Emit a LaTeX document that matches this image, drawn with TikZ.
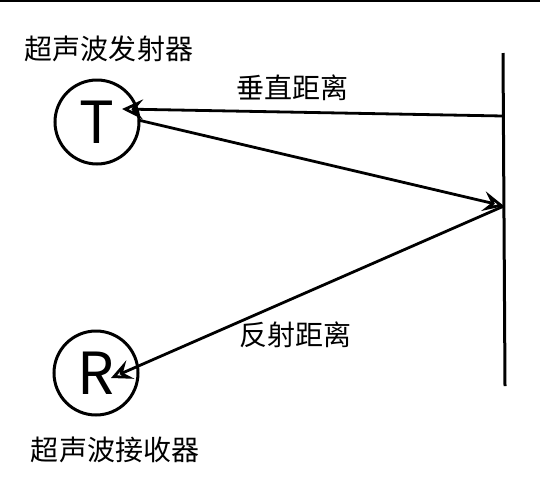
\documentclass[tikz,border=0pt]{standalone}
\usepackage{fontspec}
\setmainfont{Noto Sans CJK SC}
\usetikzlibrary{arrows.meta}

\tikzset{
  dev/.style={circle, draw, line width=1.5pt, minimum size=42pt, inner sep=0pt, font=\fontsize{29}{32}\selectfont},
  lbl/.style={font=\fontsize{14}{17}\selectfont, inner sep=0pt},
  ray/.style={line width=1.4pt, -{Stealth[open, length=10.5pt, width=10pt, inset=4pt]}},
}

\begin{document}
\begin{tikzpicture}[x=0.5pt, y=-0.5pt]
	\useasboundingbox (0,0) rectangle (540,493);
	\draw[line width=1pt] (0,1) -- (540,1);
	% wall
	\coordinate (wtop) at (503,53);
	\coordinate (wbot) at (505,386);
	\draw[line width=1.5pt] (wtop) -- (wbot);
	% emitter and receiver
	\node[dev] (T) at (97,122) {T};
	\node[dev] (R) at (96,373) {R};
	\node[lbl] (tname) at (109,49) {超声波发射器};
	\node[lbl] (rname) at (115,450) {超声波接收器};
	% points on the wall and on the circles
	\coordinate (w1) at (503,116);
	\coordinate (w2) at (504,206);
	\coordinate (t1) at (122,109);
	\coordinate (t2) at (138,120);
	\coordinate (r1) at (111,378);
	\draw[ray] (w1) -- (t1);
	\draw[ray] (t2) -- (w2);
	\draw[ray] (w2) -- (r1);
	\node[lbl] (vert) at (292,88) {垂直距离};
	\node[lbl] (refl) at (295,335) {反射距离};
\end{tikzpicture}
\end{document}
